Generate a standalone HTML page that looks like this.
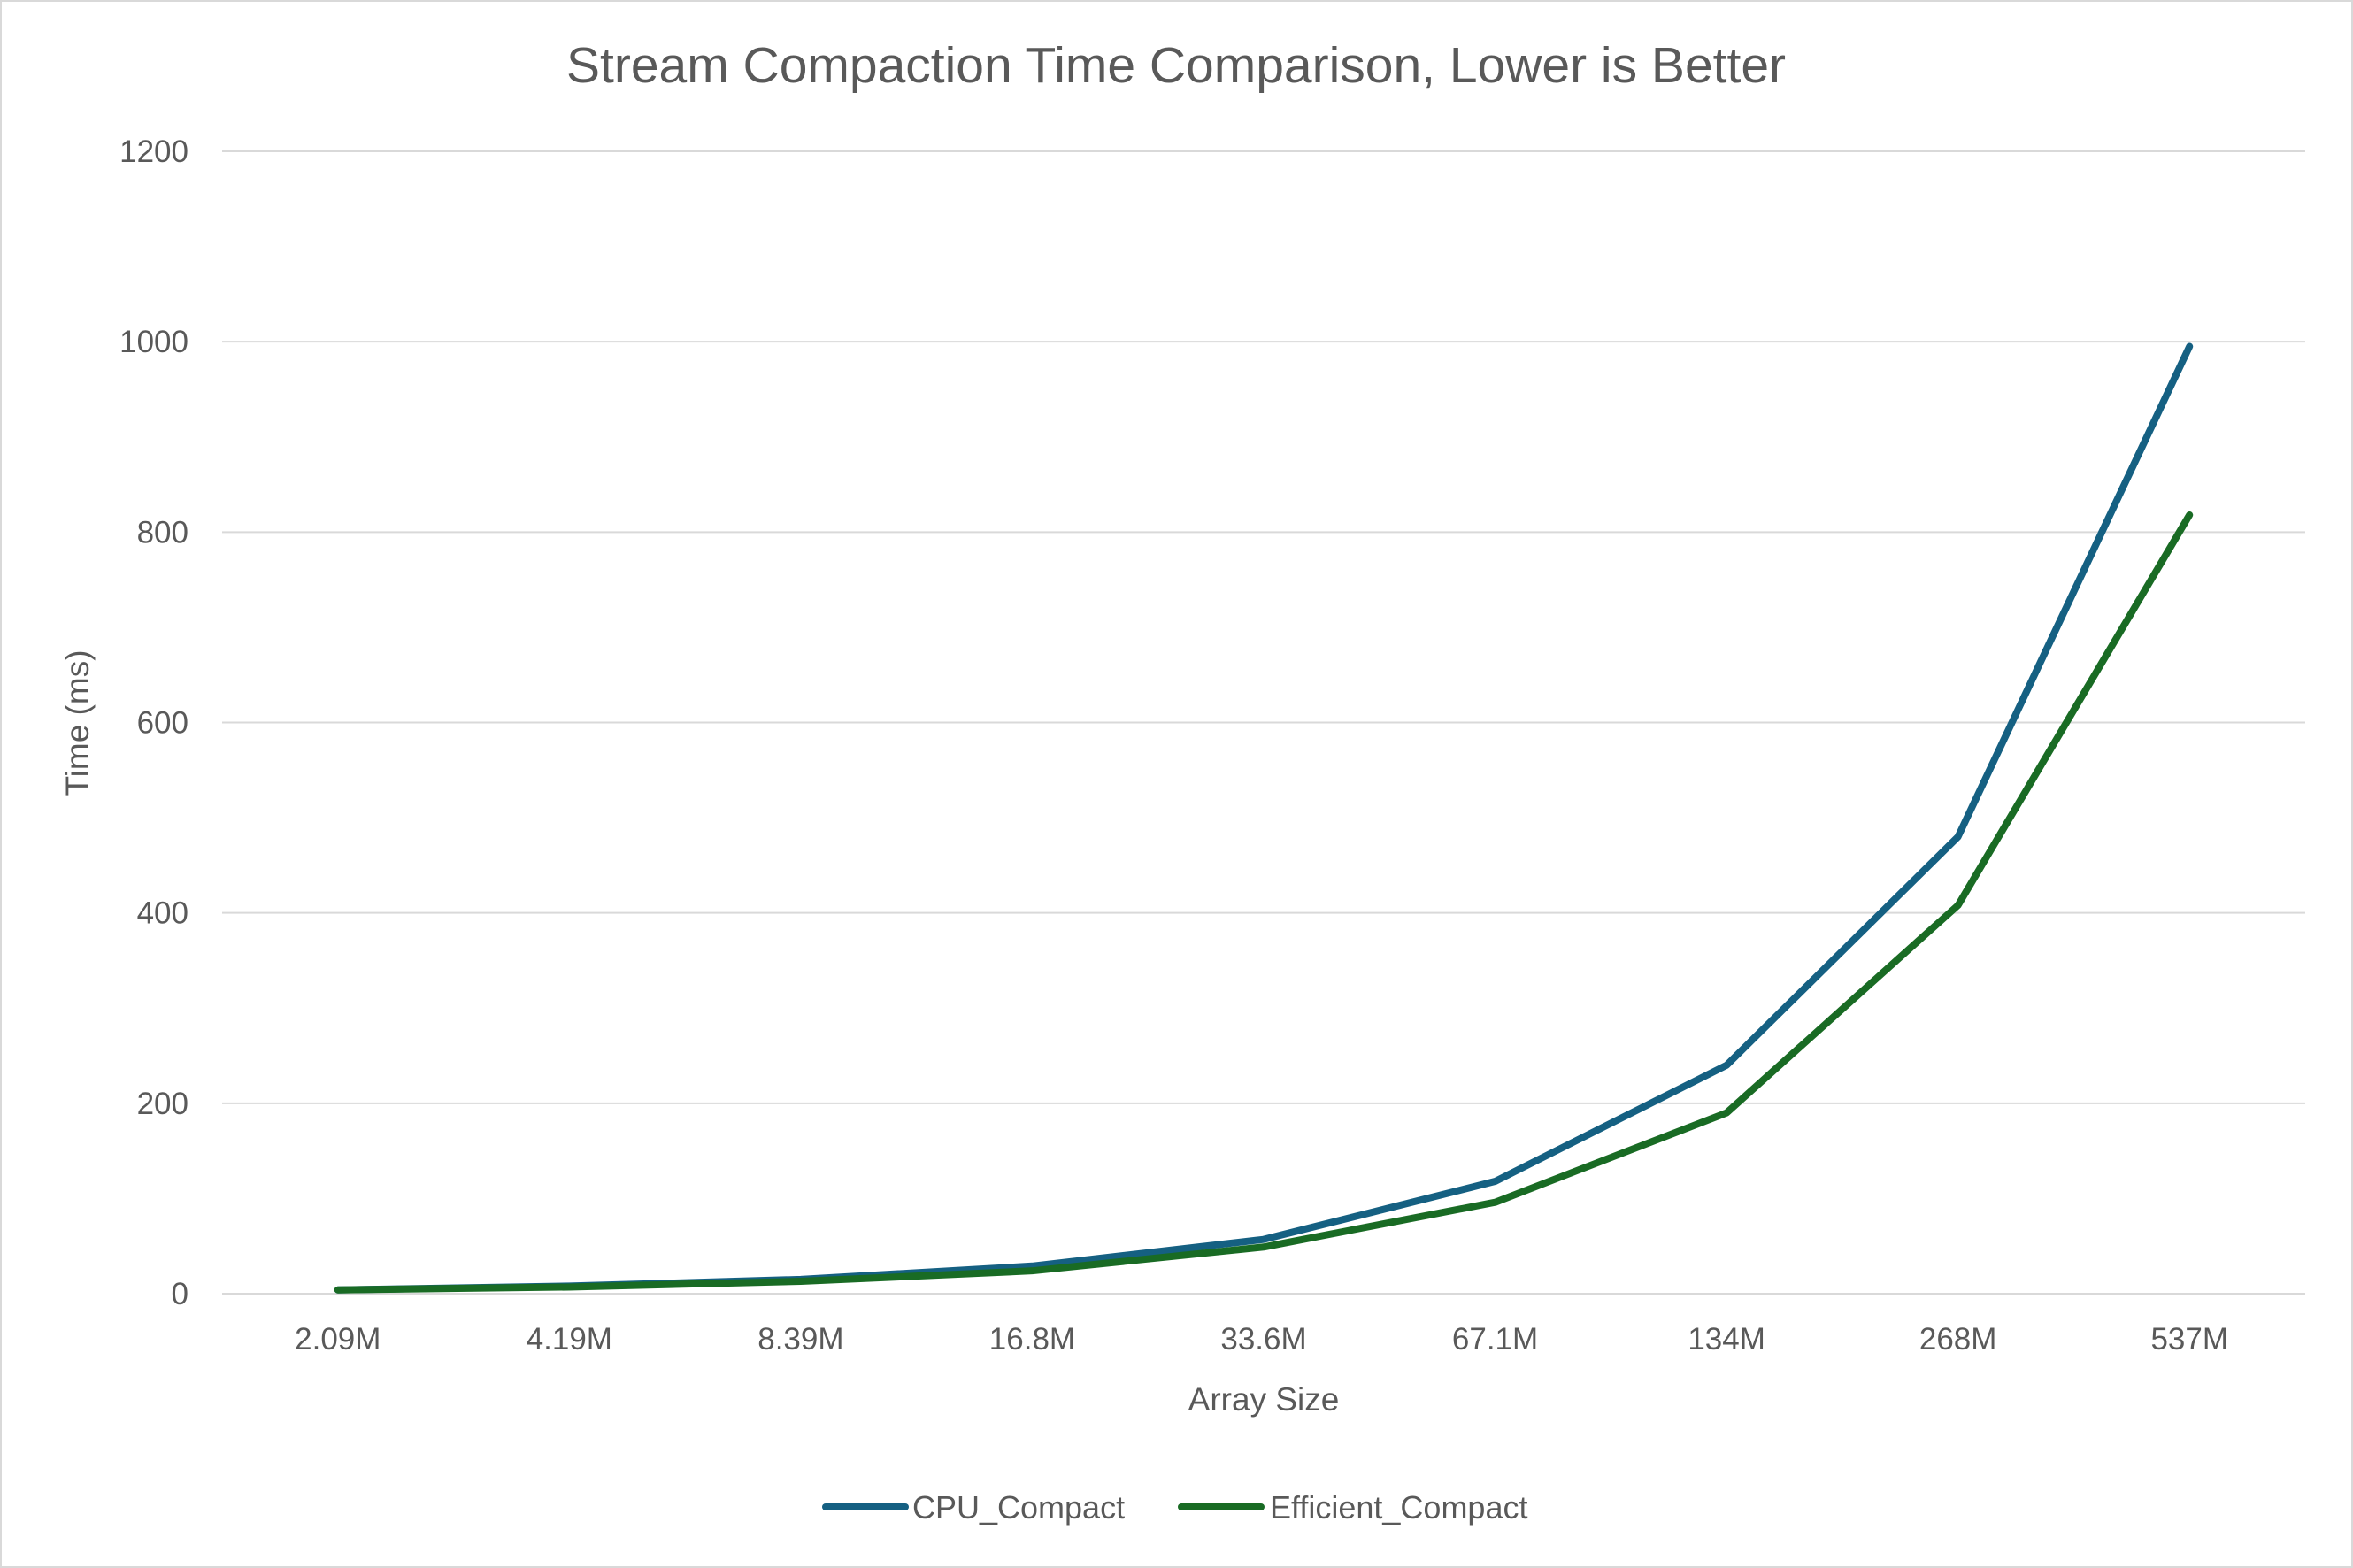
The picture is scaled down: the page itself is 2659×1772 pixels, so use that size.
<!DOCTYPE html>
<html><head><meta charset="utf-8"><style>
body{margin:0;background:#fff;}
svg{display:block;font-family:"Liberation Sans",sans-serif;}
</style></head><body>
<svg id="chart" width="2659" height="1772" viewBox="0 0 2659 1772">
<rect x="1" y="1" width="2657" height="1770" fill="#fff" stroke="#d9d9d9" stroke-width="2"/>
<text x="1329" y="93" text-anchor="middle" font-size="57" fill="#595959">Stream Compaction Time Comparison, Lower is Better</text>
<g id="grid"></g><g id="yticks"></g><g id="xticks"></g><g id="lines"></g>
<text transform="translate(100,817) rotate(-90)" text-anchor="middle" font-size="37" fill="#595959">Time (ms)</text>
<text x="1428" y="1594" text-anchor="middle" font-size="37" fill="#595959">Array Size</text>
<g>
<line x1="933" y1="1703" x2="1023" y2="1703" stroke="#156082" stroke-width="8" stroke-linecap="round"/>
<text x="1031" y="1716" font-size="36" fill="#595959">CPU_Compact</text>
<line x1="1335" y1="1703" x2="1425" y2="1703" stroke="#196b24" stroke-width="8" stroke-linecap="round"/>
<text x="1435" y="1716" font-size="36" fill="#595959">Efficient_Compact</text>
</g>
</svg>
<script>
const categories=["2.09M","4.19M","8.39M","16.8M","33.6M","67.1M","134M","268M","537M"];
const cpuValues=[4,8,15,29,57,118,240,480,995];
const efficientValues=[4,7,13,24,49,96,190,408,818];
const yTicks=[0,200,400,600,800,1000,1200];
const NS="http://www.w3.org/2000/svg";
const L=251,R=2605,Y0=1462,Y1=171,yMax=1200;
const yS=v=>Y0-(v/yMax)*(Y0-Y1);
const step=(R-L)/categories.length;
const xS=i=>L+step*(i+0.5);
function mk(t,a,p){const e=document.createElementNS(NS,t);for(const k in a)e.setAttribute(k,a[k]);document.getElementById(p).appendChild(e);return e;}
yTicks.forEach(v=>{
 const g=mk("line",{x1:L,x2:R,y1:yS(v),y2:yS(v),stroke:"#d9d9d9","stroke-width":2},"grid");
 
 
 const t=mk("text",{x:213,y:yS(v)+12,"text-anchor":"end","font-size":35,fill:"#595959"},"yticks");
 t.textContent=v;
 
 
});
categories.forEach((c,i)=>{
 const t=mk("text",{x:xS(i),y:1525,"text-anchor":"middle","font-size":35,fill:"#595959"},"xticks");
 t.textContent=c;
 
 
});
[[cpuValues,"#156082","cpu-line"],[efficientValues,"#196b24","efficient-line"]].forEach(([vals,col,name])=>{
 const p=mk("polyline",{points:vals.map((v,i)=>xS(i)+","+yS(v)).join(" "),fill:"none",stroke:col,"stroke-width":8,"stroke-linejoin":"round","stroke-linecap":"round"},"lines");
 
 
});
</script>
</body></html>
